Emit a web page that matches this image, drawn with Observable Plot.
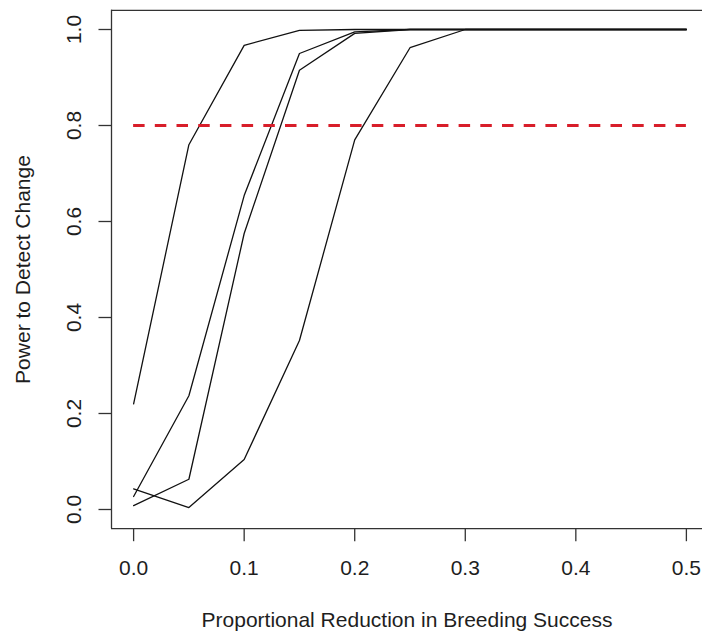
<!DOCTYPE html>
<html>
<head>
<meta charset="utf-8">
<script src="https://cdn.jsdelivr.net/npm/d3@7"></script>
<script src="https://cdn.jsdelivr.net/npm/@observablehq/plot@0.6"></script>
<style>
  html, body { margin: 0; padding: 0; background: #fff; }
  #chart svg { display: block; }
</style>
</head>
<body>
<div id="chart"></div>
<script>
// Proportional reduction in breeding success (x positions)
const reductions = [0, 0.05, 0.1, 0.15, 0.2, 0.25, 0.3, 0.35, 0.4, 0.45, 0.5];
// Power to detect change, one array per scenario
const powerA = [0.22, 0.76, 0.967, 0.998, 1.0, 1.0, 1.0, 1.0, 1.0, 1.0, 1.0];
const powerB = [0.027, 0.237, 0.654, 0.950, 0.995, 1.0, 1.0, 1.0, 1.0, 1.0, 1.0];
const powerC = [0.008, 0.063, 0.575, 0.915, 0.992, 1.0, 1.0, 1.0, 1.0, 1.0, 1.0];
const powerD = [0.043, 0.004, 0.104, 0.352, 0.770, 0.962, 1.0, 1.0, 1.0, 1.0, 1.0];
const threshold = 0.8;
const xTicks = [0, 0.1, 0.2, 0.3, 0.4, 0.5];
const yTicks = [0, 0.2, 0.4, 0.6, 0.8, 1.0];
const xLabel = "Proportional Reduction in Breeding Success";
const yLabel = "Power to Detect Change";

const seriesList = [["A", powerA], ["B", powerB], ["C", powerC], ["D", powerD]];
const rows = seriesList.flatMap(([name, vals]) =>
  reductions.map((r, i) => ({x: r, y: vals[i], s: name})));

const fmt = d3.format(".1f");
const ink = "#1e1e1e";
const fs = 21;

const chart = Plot.plot({
  width: 702,
  height: 635,
  marginLeft: 111,
  marginRight: 0,
  marginTop: 9.8,
  marginBottom: 106.8,
  style: {fontFamily: "'Liberation Sans', Arial, sans-serif", fontSize: fs + "px", color: ink, background: "#fff"},
  x: {domain: [-0.02, 0.52], range: [111, 708]},
  y: {domain: [-0.04, 1.04], range: [528.2, 9.8]},
  marks: [
    // box
    Plot.ruleY([-0.04, 1.04], {x1: -0.02, x2: 0.52, stroke: "#333", strokeWidth: 1.3}),
    Plot.ruleX([-0.02], {y1: -0.04, y2: 1.04, stroke: "#333", strokeWidth: 1.3}),
    // ticks
    Plot.axisX({ticks: xTicks, tickSize: 13, tickFormat: () => "", label: null, stroke: "#333", strokeWidth: 1.3}),
    Plot.axisY({ticks: yTicks, tickSize: 12.5, tickFormat: () => "", label: null, stroke: "#333", strokeWidth: 1.3}),
    // tick labels
    Plot.text(xTicks, {x: d => d, frameAnchor: "bottom", dy: 39.8, lineAnchor: "middle", textAnchor: "middle", text: d => fmt(d), fontSize: fs, fill: ink}),
    Plot.text(yTicks, {y: d => d, frameAnchor: "left", dx: -37.7, rotate: -90, lineAnchor: "middle", textAnchor: "middle", text: d => fmt(d), fontSize: fs, fill: ink}),
    // axis titles
    Plot.text([xLabel], {frameAnchor: "bottom", dy: 91.3, lineAnchor: "middle", textAnchor: "middle", text: d => d, fontSize: fs, fill: ink}),
    Plot.text([yLabel], {frameAnchor: "left", dx: -88.4, rotate: -90, lineAnchor: "middle", textAnchor: "middle", text: d => d, fontSize: fs, fill: ink}),
    // curves
    Plot.line(rows, {x: "x", y: "y", z: "s", stroke: "#111", strokeWidth: 1.3}),
    // threshold
    Plot.ruleY([threshold], {x1: 0, x2: 0.5, stroke: "#d81e2a", strokeWidth: 2.8, strokeDasharray: "11.5,10.2"})
  ]
});
document.getElementById("chart").append(chart);
</script>
</body>
</html>
